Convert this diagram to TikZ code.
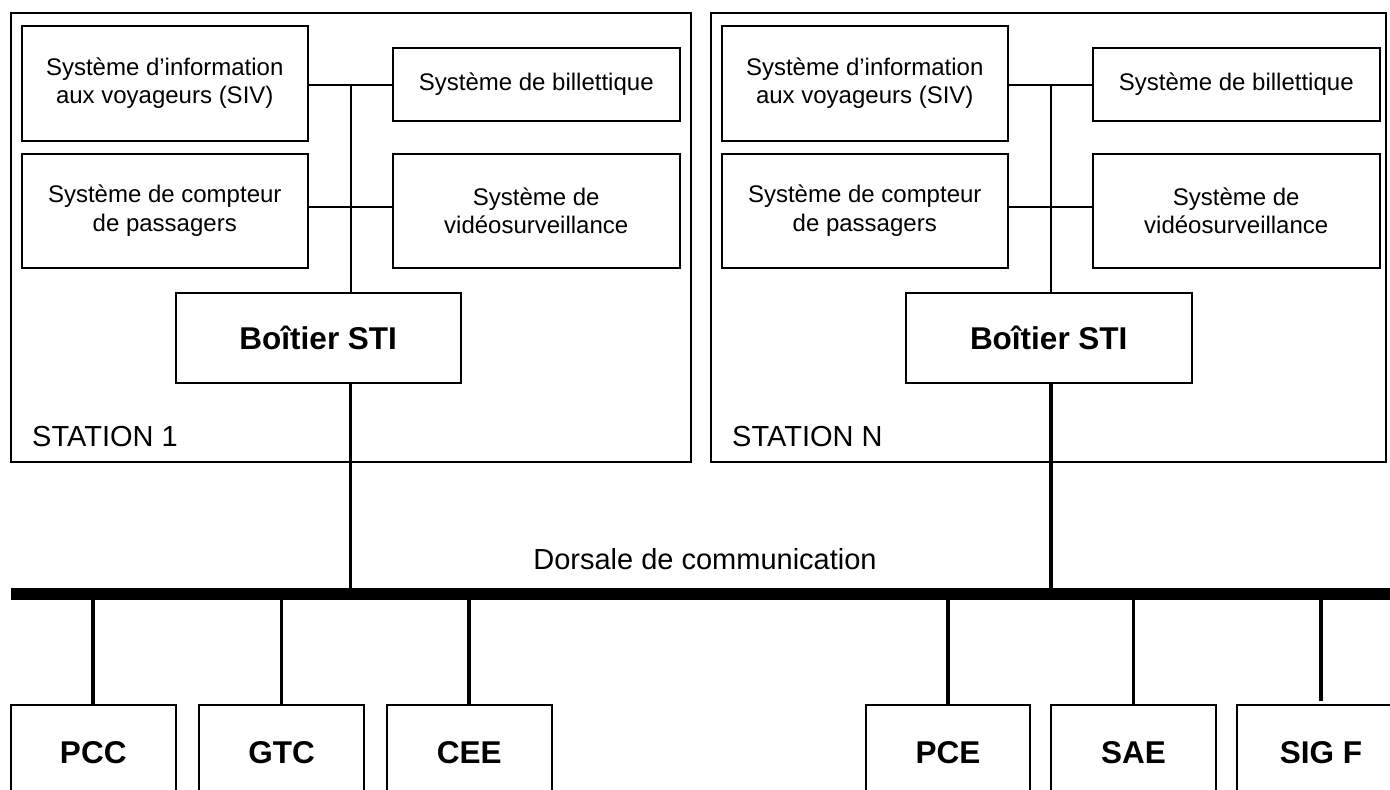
\documentclass[tikz,border=0pt]{standalone}
\usepackage{fontspec}
\setmainfont{Liberation Sans}
\begin{document}
\begin{tikzpicture}[x=1pt,y=-1pt,
  frame/.style={draw, line width=2pt, inner sep=0pt},
  sysbox/.style={frame, minimum width=286.5pt, align=center,
    font=\fontsize{24}{28.5}\selectfont},
  stibox/.style={frame, minimum width=285.5pt, minimum height=90pt,
    font=\fontsize{31.5}{36}\selectfont\bfseries},
  endbox/.style={frame, minimum width=164.5pt, minimum height=95pt,
    font=\fontsize{31.5}{36}\selectfont\bfseries},
  thin/.style={line width=2pt},
  thick/.style={line width=3.8pt},
  bus/.style={line width=12pt},
  lbl/.style={inner sep=0pt, font=\fontsize{29}{34}\selectfont}
]
\useasboundingbox (0,0) rectangle (1390,790);
\clip (0,0) rectangle (1390,790);

% ---------- Station 1 ----------
\node[frame, minimum width=679.5pt, minimum height=448.5pt] (st1) at (350.75,237.25) {};
\node[sysbox, minimum height=114.7pt] (siv1) at (164.75,83.35)
  {Système d’information\\aux voyageurs (SIV)};
\node[sysbox, minimum height=73pt] (bil1) at (536.25,84.2) {Système de billettique};
\node[sysbox, minimum height=113.7pt] (cpt1) at (164.75,210.85)
  {Système de compteur\\de passagers};
\node[sysbox, minimum height=113.7pt] (vid1) at (536.25,210.85)
  {Système de\\vidéosurveillance};
\node[stibox] (sti1) at (318.25,338) {Boîtier STI};
\node[lbl, anchor=west] (lab1) at (32,437) {STATION 1};

\coordinate (j1a) at (350.5,85);
\coordinate (j1b) at (350.5,207);
\draw[thin] (siv1.east |- j1a) -- (bil1.west |- j1a);
\draw[thin] (cpt1.east |- j1b) -- (vid1.west |- j1b);
\draw[thin] (j1a) -- (sti1.north -| j1a);

% ---------- Station N ----------
\node[frame, minimum width=675pt, minimum height=448.5pt] (stN) at (1048.5,237.25) {};
\node[sysbox, minimum height=114.7pt] (sivN) at (864.75,83.35)
  {Système d’information\\aux voyageurs (SIV)};
\node[sysbox, minimum height=73pt] (bilN) at (1236.25,84.2) {Système de billettique};
\node[sysbox, minimum height=113.7pt] (cptN) at (864.75,210.85)
  {Système de compteur\\de passagers};
\node[sysbox, minimum height=113.7pt] (vidN) at (1236.25,210.85)
  {Système de\\vidéosurveillance};
\node[stibox] (stiN) at (1048.75,338) {Boîtier STI};
\node[lbl, anchor=west] (labN) at (732,437) {STATION N};

\coordinate (jNa) at (1051,85);
\coordinate (jNb) at (1051,207);
\draw[thin] (sivN.east |- jNa) -- (bilN.west |- jNa);
\draw[thin] (cptN.east |- jNb) -- (vidN.west |- jNb);
\draw[thin] (jNa) -- (stiN.north -| jNa);

% ---------- Communication backbone ----------
\coordinate (busL) at (11,594);
\coordinate (busR) at (1400,594);
\draw[bus] (busL) -- (busR);
\node[lbl] (dorsale) at (705,559) {Dorsale de communication};

\draw[thick] (sti1.south -| j1a) -- (j1a |- busL);
\draw[thick] (stiN.south -| jNa) -- (jNa |- busL);

% ---------- Central systems ----------
\node[endbox, minimum width=164.5pt] (pcc) at (93.25,752.5) {PCC};
\node[endbox, minimum width=165pt] (gtc) at (281.5,752.5) {GTC};
\node[endbox, minimum width=164.5pt] (cee) at (469.25,752.5) {CEE};
\node[endbox, minimum width=164.5pt] (pce) at (948,752.5) {PCE};
\node[endbox, minimum width=165pt] (sae) at (1133.5,752.5) {SAE};
\node[endbox, minimum width=168pt] (sigf) at (1321,752.5) {SIG F};

\foreach \n in {pcc,gtc,cee,pce,sae}
  \draw[thick] (\n.north |- busL) -- (\n.north);
\draw[thick, shorten >=3.5pt] (sigf.north |- busL) -- (sigf.north);
\end{tikzpicture}
\end{document}
